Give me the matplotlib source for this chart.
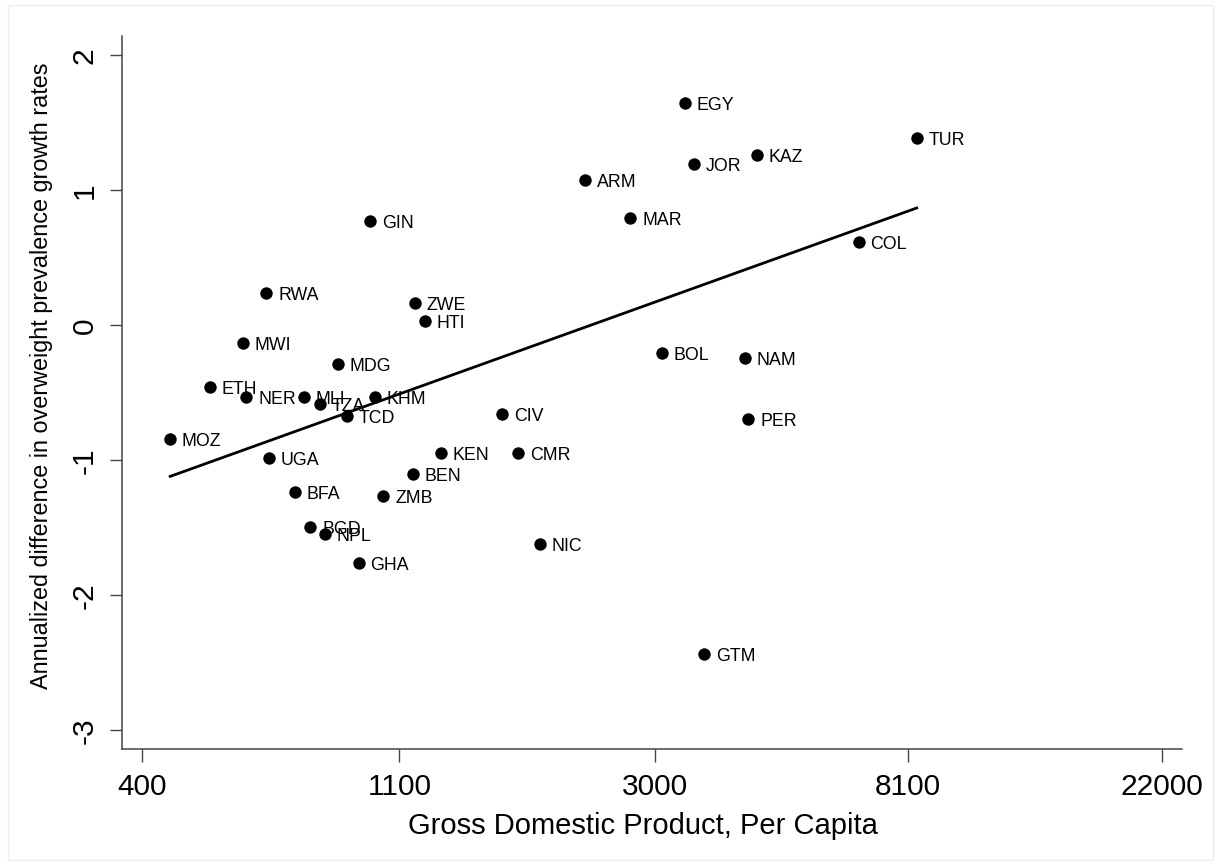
import numpy as np
import matplotlib
matplotlib.use("Agg")
import matplotlib.pyplot as plt
from matplotlib.patches import Rectangle

plt.rcParams['font.family'] = ['Liberation Sans', 'DejaVu Sans']

countries = ["EGY", "TUR", "KAZ", "JOR", "ARM", "MAR", "COL", "GIN", "RWA", "ZWE",
             "HTI", "MWI", "MDG", "KHM", "CIV", "KEN", "CMR", "BEN", "ZMB", "BOL",
             "NAM", "PER", "NIC", "GTM", "ETH", "NER", "MLI", "TZA", "TCD", "MOZ",
             "UGA", "BGD", "NPL", "GHA", "BFA"]
gdp_pc = [3378, 8395, 4478, 3495, 2278, 2726, 6679, 981, 652, 1170,
          1217, 594, 864, 1000, 1645, 1295, 1752, 1160, 1033, 3087,
          4272, 4334, 1911, 3640, 523, 603, 755, 806, 896, 447,
          659, 775, 820, 937, 730]
diff_rate = [1.649, 1.390, 1.264, 1.195, 1.076, 0.797, 0.617, 0.775, 0.237, 0.167,
             0.034, -0.129, -0.287, -0.529, -0.659, -0.948, -0.948, -1.104, -1.264, -0.203,
             -0.240, -0.696, -1.620, -2.437, -0.455, -0.533, -0.529, -0.585, -0.672, -0.844,
             -0.985, -1.496, -1.548, -1.759, -1.235]

# fitted line: y = intercept + slope * ln(GDP)
fit_intercept = -5.257
fit_slope = 0.678

xticks = [400, 1100, 3000, 8100, 22000]
yticks = [2, 1, 0, -1, -2, -3]

W, H = 1220, 865
fig = plt.figure(figsize=(W / 100, H / 100), dpi=100)
ax = fig.add_axes([122 / W, 1 - 749 / H, (1182 - 122) / W, (749 - 36) / H])

lx = np.log(np.array(gdp_pc, dtype=float))
y = np.array(diff_rate)

ax.scatter(lx, y, s=80, color='black', zorder=3, linewidths=0)
for c, xv, yv in zip(countries, lx, y):
    ax.annotate(c, (xv, yv), xytext=(8.5, -0.4), textcoords='offset points',
                ha='left', va='center_baseline', fontsize=12.8, color='black')

xs = np.array([lx.min(), lx.max()])
ax.plot(xs, fit_intercept + fit_slope * xs, color='black', lw=2.0, zorder=2)

ax.set_xlim(np.log(369.9), np.log(23800))
ax.set_ylim(-3.139, 2.143)
ax.set_xticks(np.log(xticks))
ax.set_xticklabels([str(t) for t in xticks])
ax.set_yticks(yticks)
ax.set_yticklabels([str(t) for t in yticks], rotation=90, va='center')

for s in ['top', 'right']:
    ax.spines[s].set_visible(False)
for s in ['left', 'bottom']:
    ax.spines[s].set_color('#444444')
    ax.spines[s].set_linewidth(1.1)
ax.tick_params(axis='both', length=9, width=1.0, color='#444444', labelsize=21.5,
               pad=8, labelcolor='black')

fig.text(643 / W, 1 - 826 / H, "Gross Domestic Product, Per Capita", ha='center',
         va='center', fontsize=21)
fig.text(42 / W, 1 - 376 / H, "Annualized difference in overweight prevalence growth rates",
         ha='center', va='center', rotation=90, fontsize=16.8)

fig.patches.append(Rectangle((8 / W, 1 - 860 / H), (1213 - 8) / W, (860 - 5) / H,
                             transform=fig.transFigure, fill=False,
                             edgecolor='#eeeeee', lw=1.0))

fig.savefig("out.png", dpi=100, facecolor='white')
